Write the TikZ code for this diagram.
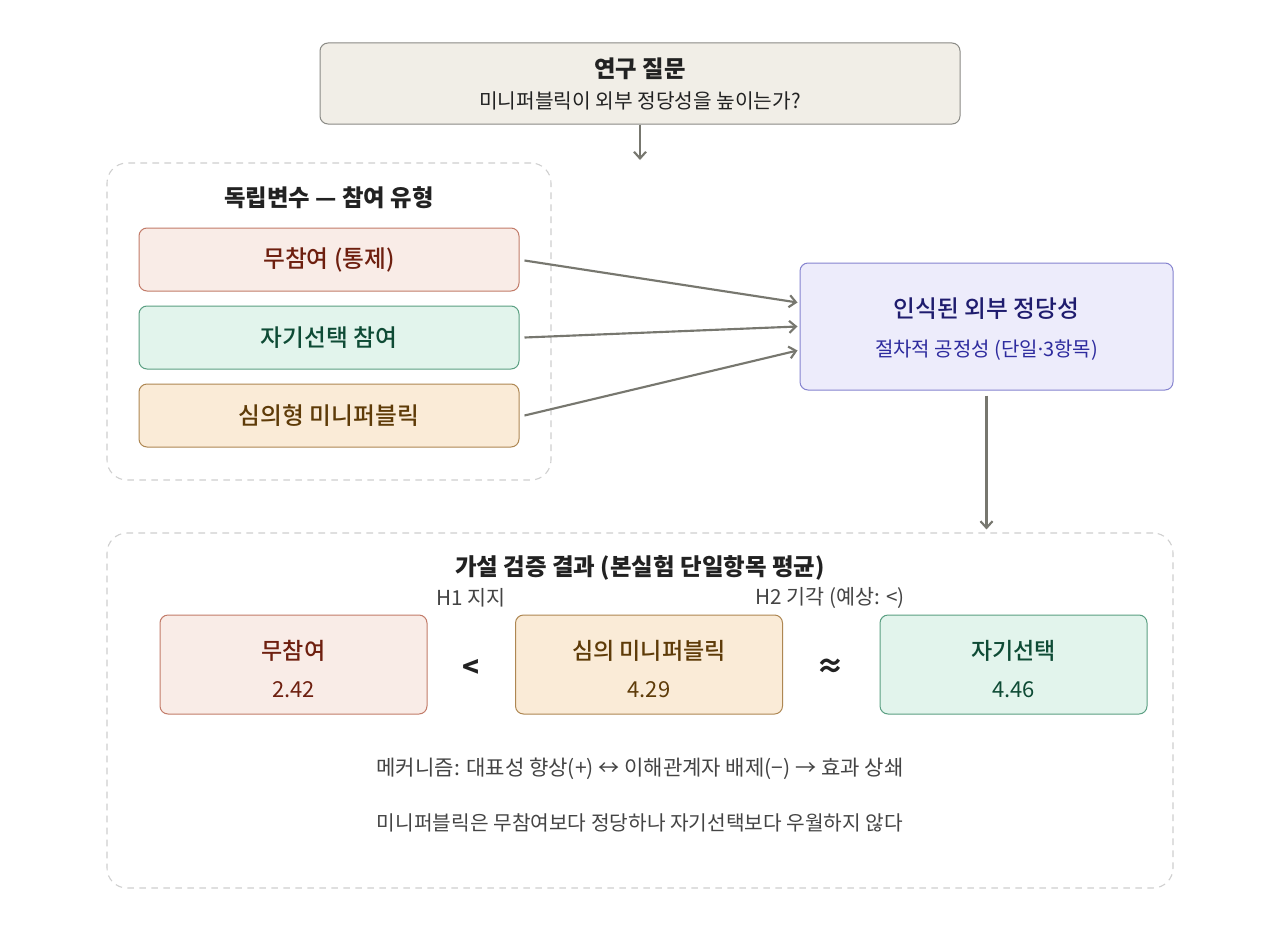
\documentclass[tikz,border=0pt]{standalone}
\usepackage{fontspec}
\setmainfont{Noto Sans CJK KR}
\newfontfamily\med{Noto Sans CJK KR Medium}
\newfontfamily\latinfont{Noto Sans}
\usetikzlibrary{arrows.meta,calc}
\definecolor{qfill}{HTML}{F1EEE7}
\definecolor{qdraw}{HTML}{8A8A85}
\definecolor{redfill}{HTML}{F9ECE7}
\definecolor{reddraw}{HTML}{C27B69}
\definecolor{redtext}{HTML}{6E1F0F}
\definecolor{greenfill}{HTML}{E2F4EC}
\definecolor{greendraw}{HTML}{5A9F82}
\definecolor{greentext}{HTML}{0E4B35}
\definecolor{orfill}{HTML}{FAEBD7}
\definecolor{ordraw}{HTML}{AE8752}
\definecolor{ortext}{HTML}{5E3B08}
\definecolor{pufill}{HTML}{EDECFB}
\definecolor{pudraw}{HTML}{8583CF}
\definecolor{putext}{HTML}{1F1C6E}
\definecolor{pusub}{HTML}{2E2B9E}
\definecolor{arrcol}{HTML}{77776F}
\definecolor{dashcol}{HTML}{CFCFCF}
\definecolor{graytext}{HTML}{444444}
\definecolor{darktext}{HTML}{222222}
\newcommand{\fs}[1]{\fontsize{#1pt}{#1pt}\selectfont}
\tikzset{
  box/.style={rectangle, rounded corners=6pt, line width=0.75pt, inner sep=0pt},
  group/.style={rectangle, rounded corners=15pt, draw=dashcol, line width=0.8pt, dash pattern=on 5pt off 4pt, inner sep=0pt},
  arr/.style={draw=arrcol, line width=1.6pt, -{Straight Barb[length=5pt,width=9pt]}},
  txt/.style={inner sep=0pt, anchor=center},
}
\begin{document}
\begin{tikzpicture}[x=0.75pt,y=-0.75pt]
\useasboundingbox[fill=white] (0,0) rectangle (1280,942);
% question
\node[box, draw=qdraw, fill=qfill, minimum width=480pt, minimum height=60.75pt] (q) at (640,83.5) {};
\node[txt, text=darktext] (qt) at (640,69) {\fs{17.5}\bfseries 연구 질문};
\node[txt, text=darktext] (qs) at (640,101) {\fs{15.2}미니퍼블릭이 외부 정당성을 높이는가?};
\coordinate (qend) at (640,160);
\draw[arr] (q.south) -- (qend);
% group 1
\node[group, minimum width=333pt, minimum height=237.75pt] (g1) at (329,321.5) {};
\node[txt, text=darktext] (g1t) at (329,198) {\fs{17.5}\bfseries 독립변수 — 참여 유형};
\node[box, draw=reddraw, fill=redfill, minimum width=285pt, minimum height=47.25pt] (r1) at (329,259.5) {};
\node[txt, text=redtext] (r1t) at (329,259.5) {\fs{17.8}\med 무참여 (통제)};
\node[box, draw=greendraw, fill=greenfill, minimum width=285pt, minimum height=47.25pt] (r2) at (329,337.5) {};
\node[txt, text=greentext] (r2t) at (329,337.5) {\fs{17.8}\med 자기선택 참여};
\node[box, draw=ordraw, fill=orfill, minimum width=285pt, minimum height=47.25pt] (r3) at (329,415.5) {};
\node[txt, text=ortext] (r3t) at (329,415.5) {\fs{17.8}\med 심의형 미니퍼블릭};
% perceived legitimacy
\node[box, draw=pudraw, fill=pufill, minimum width=279.75pt, minimum height=95.25pt] (pv) at (986.5,326.5) {};
\node[txt, text=putext] (pvt) at (986.5,309) {\fs{17.8}\med 인식된 외부 정당성};
\node[txt, text=pusub] (pvs) at (986.5,350) {\fs{15}절차적 공정성 (단일{\latinfont ·}3항목)};
\draw[arr] ($(r1.east)+(5,1)$) -- ($(pv.west)+(-2,-24)$);
\draw[arr] ($(r2.east)+(5,0)$) -- ($(pv.west)+(-2,0)$);
\draw[arr] ($(r3.east)+(5,0)$) -- ($(pv.west)+(-2,24)$);
% group 2
\node[group, minimum width=799.5pt, minimum height=266.25pt] (g2) at (640,710.5) {};
\draw[arr] ($(pv.south)+(0,5)$) -- ($(g2.north -| pv.south)+(0,-3)$);
\node[txt, text=darktext] (g2t) at (640,568) {\fs{17.6}\bfseries 가설 검증 결과 (본실험 단일항목 평균)};
\node[txt, text=graytext] (h1) at (471,598) {\fs{15.5}H1 지지};
\node[txt, text=graytext] (h2) at (830,598) {\fs{15.5}H2 기각 (예상: <)};
\node[box, draw=reddraw, fill=redfill, minimum width=200.25pt, minimum height=74.25pt] (b1) at (293.5,664.5) {};
\node[txt, text=redtext] (b1t) at (293.5,651) {\fs{17.3}\med 무참여};
\node[txt, text=redtext] (b1n) at (293.5,690) {\fs{16.5}2.42};
\node[box, draw=ordraw, fill=orfill, minimum width=200.25pt, minimum height=74.25pt] (b2) at (649,664.5) {};
\node[txt, text=ortext] (b2t) at (649,651) {\fs{17.3}\med 심의 미니퍼블릭};
\node[txt, text=ortext] (b2n) at (649,690) {\fs{16.5}4.29};
\node[box, draw=greendraw, fill=greenfill, minimum width=200.25pt, minimum height=74.25pt] (b3) at (1013.5,664.5) {};
\node[txt, text=greentext] (b3t) at (1013.5,651) {\fs{17.3}\med 자기선택};
\node[txt, text=greentext] (b3n) at (1013.5,690) {\fs{16.5}4.46};
\node[txt, text=darktext] (lt) at (471,668) {\fs{21}\bfseries <};
\node[txt, text=darktext] (ap) at (830,668) {\fs{21}\bfseries ≈};
\node[txt, text=graytext] (m1) at (640,769) {\fs{15.8}메커니즘: 대표성 향상(+) ↔ 이해관계자 배제(−) → 효과 상쇄};
\node[txt, text=graytext] (m2) at (640,823) {\fs{15.2}미니퍼블릭은 무참여보다 정당하나 자기선택보다 우월하지 않다};
\end{tikzpicture}
\end{document}
